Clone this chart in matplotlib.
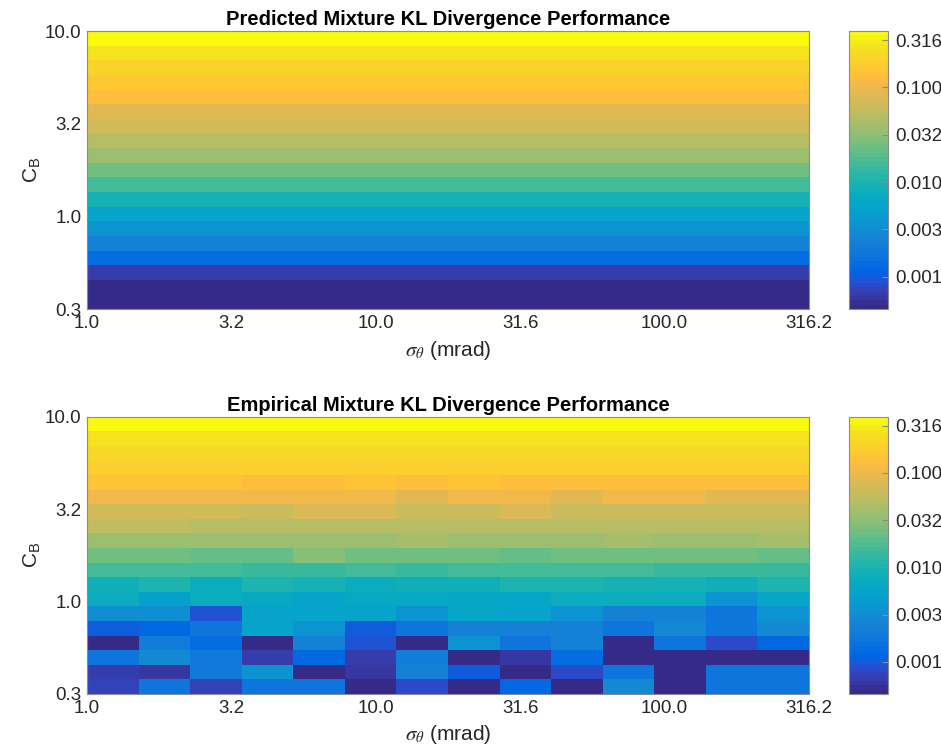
import numpy as np
import matplotlib
matplotlib.use('Agg')
import matplotlib.pyplot as plt
from matplotlib.colors import ListedColormap, LogNorm

plt.rcParams['font.family'] = ['Liberation Sans', 'DejaVu Sans']
plt.rcParams['mathtext.fontset'] = 'stix'

# MATLAB parula colour map, 64 entries
PARULA = [
    [0.2081, 0.1663, 0.5292], [0.2116, 0.1898, 0.5777], [0.2123, 0.2138, 0.6270],
    [0.2081, 0.2386, 0.6771], [0.1959, 0.2645, 0.7279], [0.1707, 0.2919, 0.7792],
    [0.1253, 0.3242, 0.8303], [0.0591, 0.3598, 0.8683], [0.0117, 0.3875, 0.8820],
    [0.0060, 0.4086, 0.8828], [0.0165, 0.4266, 0.8786], [0.0329, 0.4430, 0.8720],
    [0.0498, 0.4586, 0.8641], [0.0629, 0.4737, 0.8554], [0.0723, 0.4887, 0.8467],
    [0.0779, 0.5040, 0.8384], [0.0793, 0.5200, 0.8312], [0.0749, 0.5375, 0.8263],
    [0.0641, 0.5570, 0.8240], [0.0488, 0.5772, 0.8228], [0.0343, 0.5966, 0.8199],
    [0.0265, 0.6137, 0.8135], [0.0239, 0.6287, 0.8038], [0.0231, 0.6418, 0.7913],
    [0.0228, 0.6535, 0.7768], [0.0267, 0.6642, 0.7607], [0.0384, 0.6743, 0.7436],
    [0.0590, 0.6838, 0.7254], [0.0843, 0.6928, 0.7062], [0.1133, 0.7015, 0.6859],
    [0.1453, 0.7098, 0.6646], [0.1801, 0.7177, 0.6424], [0.2178, 0.7250, 0.6193],
    [0.2586, 0.7317, 0.5954], [0.3022, 0.7376, 0.5712], [0.3482, 0.7424, 0.5473],
    [0.3953, 0.7459, 0.5244], [0.4420, 0.7481, 0.5033], [0.4871, 0.7491, 0.4840],
    [0.5300, 0.7491, 0.4661], [0.5709, 0.7485, 0.4494], [0.6099, 0.7473, 0.4337],
    [0.6473, 0.7456, 0.4188], [0.6834, 0.7435, 0.4044], [0.7184, 0.7411, 0.3905],
    [0.7525, 0.7384, 0.3768], [0.7858, 0.7356, 0.3633], [0.8185, 0.7327, 0.3498],
    [0.8507, 0.7299, 0.3360], [0.8824, 0.7274, 0.3217], [0.9139, 0.7258, 0.3063],
    [0.9450, 0.7261, 0.2886], [0.9739, 0.7314, 0.2666], [0.9938, 0.7455, 0.2403],
    [0.9990, 0.7653, 0.2164], [0.9955, 0.7861, 0.1967], [0.9880, 0.8066, 0.1794],
    [0.9789, 0.8271, 0.1633], [0.9697, 0.8481, 0.1475], [0.9626, 0.8705, 0.1309],
    [0.9589, 0.8949, 0.1132], [0.9598, 0.9218, 0.0948], [0.9661, 0.9514, 0.0755],
    [0.9763, 0.9831, 0.0538],
]

sigma_ticks = [1.0, 3.162, 10.0, 31.62, 100.0, 316.2]
sigma_ticklabels = ['1.0', '3.2', '10.0', '31.6', '100.0', '316.2']
cb_ticks = [0.3162, 1.0, 3.162, 10.0]
cb_ticklabels = ['0.3', '1.0', '3.2', '10.0']
kl_ticks = [0.001, 0.003162, 0.01, 0.03162, 0.1, 0.3162]
kl_ticklabels = ['0.001', '0.003', '0.010', '0.032', '0.100', '0.316']

# colour limits, log10 of KL divergence
kl_log_min = -3.342
kl_log_max = -0.405

# log10 KL divergence per C_B bin (bottom to top), same for every sigma
predicted_log_kl = [-3.52, -3.34, -3.17, -2.84, -2.64, -2.46, -2.26, -2.02, -1.82, -1.61,
                    -1.43, -1.29, -1.14, -1.05, -0.90, -0.79, -0.70, -0.58, -0.41]

# log10 KL divergence, rows = C_B bins (bottom to top), columns = sigma bins
empirical_log_kl = [
    [-3.14, -2.75, -3.14, -2.78, -2.78, -3.34, -3.11, -3.34, -2.90, -3.34, -2.55, -3.34, -2.78, -2.78],
    [-3.20, -3.25, -2.70, -2.46, -3.34, -3.25, -2.64, -3.02, -3.34, -3.11, -2.78, -3.34, -2.78, -2.78],
    [-2.75, -2.52, -2.72, -3.20, -2.90, -3.20, -2.67, -3.34, -3.25, -2.87, -3.34, -3.34, -3.34, -3.34],
    [-3.34, -2.67, -2.84, -3.34, -2.64, -3.05, -3.34, -2.43, -2.78, -2.64, -3.34, -2.78, -3.11, -2.90],
    [-3.02, -2.90, -2.75, -2.26, -2.43, -2.99, -2.78, -2.64, -2.64, -2.64, -2.78, -2.55, -2.78, -2.55],
    [-2.49, -2.49, -3.05, -2.26, -2.26, -2.26, -2.46, -2.23, -2.26, -2.43, -2.64, -2.64, -2.78, -2.46],
    [-2.11, -2.29, -2.14, -2.17, -2.26, -2.17, -2.17, -2.20, -2.23, -2.14, -2.14, -2.14, -2.46, -2.20],
    [-2.08, -1.99, -2.11, -1.99, -2.02, -2.11, -2.08, -2.08, -1.99, -1.99, -2.05, -2.05, -2.08, -1.99],
    [-1.82, -1.79, -1.79, -1.84, -1.84, -1.79, -1.84, -1.79, -1.79, -1.79, -1.79, -1.84, -1.84, -1.87],
    [-1.61, -1.61, -1.67, -1.67, -1.55, -1.61, -1.61, -1.61, -1.67, -1.61, -1.61, -1.61, -1.61, -1.67],
    [-1.43, -1.46, -1.46, -1.46, -1.43, -1.43, -1.40, -1.46, -1.46, -1.46, -1.40, -1.46, -1.46, -1.40],
    [-1.26, -1.26, -1.31, -1.31, -1.31, -1.31, -1.31, -1.31, -1.31, -1.31, -1.31, -1.31, -1.31, -1.31],
    [-1.14, -1.14, -1.14, -1.20, -1.11, -1.11, -1.20, -1.20, -1.11, -1.20, -1.20, -1.20, -1.20, -1.20],
    [-0.99, -0.99, -0.99, -0.99, -0.99, -0.99, -1.05, -0.99, -0.99, -1.05, -0.99, -0.99, -1.05, -1.05],
    [-0.82, -0.82, -0.82, -0.90, -0.90, -0.82, -0.90, -0.82, -0.90, -0.90, -0.90, -0.90, -0.90, -0.90],
    [-0.76, -0.76, -0.76, -0.76, -0.76, -0.76, -0.76, -0.76, -0.76, -0.76, -0.76, -0.76, -0.76, -0.76],
    [-0.67, -0.67, -0.67, -0.67, -0.67, -0.67, -0.67, -0.67, -0.67, -0.67, -0.67, -0.67, -0.67, -0.67],
    [-0.55, -0.55, -0.55, -0.55, -0.55, -0.55, -0.55, -0.55, -0.55, -0.55, -0.55, -0.55, -0.55, -0.55],
    [-0.41, -0.41, -0.41, -0.41, -0.41, -0.41, -0.41, -0.41, -0.41, -0.41, -0.41, -0.41, -0.41, -0.41],
]

n_sigma = len(empirical_log_kl[0])
n_cb = len(empirical_log_kl)
sigma_edges = np.logspace(0, 2.5, n_sigma + 1)
cb_edges = np.logspace(-0.5, 1, n_cb + 1)

parula = ListedColormap(PARULA, name='parula')
norm = LogNorm(vmin=10 ** kl_log_min, vmax=10 ** kl_log_max, clip=True)

TEXT = '#262626'
EDGE = '#8c8c8c'


def draw_panel(fig, rect, cbar_rect, log_kl, title):
    ax = fig.add_axes(rect)
    mesh = ax.pcolormesh(sigma_edges, cb_edges, 10 ** np.asarray(log_kl),
                         cmap=parula, norm=norm, shading='flat')
    ax.set_xscale('log')
    ax.set_yscale('log')
    ax.set_xlim(sigma_edges[0], sigma_edges[-1])
    ax.set_ylim(cb_edges[0], cb_edges[-1])
    ax.set_xticks(sigma_ticks, sigma_ticklabels)
    ax.set_yticks(cb_ticks, cb_ticklabels)
    ax.minorticks_off()
    ax.tick_params(length=0, labelsize=13.5, colors=TEXT, pad=4)
    for s in ax.spines.values():
        s.set_color(EDGE)
        s.set_linewidth(0.8)
    ax.set_title(title, fontsize=14.5, fontweight='bold', pad=4)
    ax.set_xlabel(r'$\sigma_\theta$ (mrad)', fontsize=15, color=TEXT, labelpad=5)
    ax.set_ylabel(r'$\mathregular{C_B}$', fontsize=15, color=TEXT, labelpad=1)

    cax = fig.add_axes(cbar_rect)
    cb = fig.colorbar(mesh, cax=cax)
    cb.set_ticks(kl_ticks, labels=kl_ticklabels)
    cb.minorticks_off()
    cax.tick_params(direction='in', length=4, width=0.8, color=EDGE,
                    labelsize=13.5, labelcolor=TEXT, pad=5)
    cb.outline.set_edgecolor(EDGE)
    cb.outline.set_linewidth(0.8)
    return ax


fig = plt.figure(figsize=(9.41, 7.51), dpi=100)

draw_panel(fig, [0.0925, 0.5885, 0.7673, 0.3702], [0.9022, 0.5885, 0.0414, 0.3702],
           np.tile(np.asarray(predicted_log_kl)[:, None], (1, n_sigma)),
           'Predicted Mixture KL Divergence Performance')
draw_panel(fig, [0.0925, 0.0759, 0.7673, 0.3692], [0.9022, 0.0759, 0.0414, 0.3692],
           empirical_log_kl, 'Empirical Mixture KL Divergence Performance')

fig.savefig('out.png', dpi=100)
